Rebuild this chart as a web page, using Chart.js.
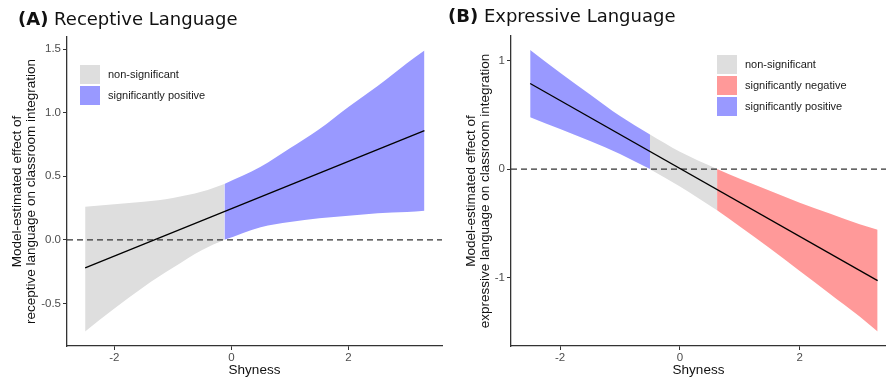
<!DOCTYPE html>
<html>
<head>
<meta charset="utf-8">
<script src="https://cdn.jsdelivr.net/npm/chart.js@4.4.1/dist/chart.umd.min.js"></script>
<style>
  html, body { margin: 0; padding: 0; background: #fff; }
  #wrap { position: relative; width: 886px; height: 377px; overflow: hidden; font-family: "Liberation Sans", Arial, sans-serif; }
  .panel { position: absolute; top: 0; width: 443px; height: 377px; }
  .ptitle { position: absolute; font-family: "DejaVu Sans", sans-serif; font-size: 18px; color: #111; white-space: nowrap; }
  .ptitle b { font-weight: bold; }
  .key { position: absolute; font-size: 11px; color: #1a1a1a; }
  .key .row { position: relative; height: 21px; }
  .key .sw { position: absolute; left: 0; top: 0; width: 20px; height: 19px; }
  .key .lab { position: absolute; left: 28px; top: 3px; white-space: nowrap; }
</style>
</head>
<body>
<div id="wrap">
  <div class="panel" style="left:0"><canvas id="receptiveChart"></canvas></div>
  <div class="panel" style="left:443px"><canvas id="expressiveChart"></canvas></div>

  <div class="ptitle" style="left:18px; top:8px"><b>(A)</b> Receptive Language</div>
  <div class="ptitle" style="left:448px; top:5px"><b>(B)</b> Expressive Language</div>

  <div class="key" style="left:80px; top:65px">
    <div class="row"><div class="sw" style="background:#dedede"></div><div class="lab">non-significant</div></div>
    <div class="row"><div class="sw" style="background:#9999ff"></div><div class="lab">significantly positive</div></div>
  </div>
  <div class="key" style="left:717px; top:55px">
    <div class="row"><div class="sw" style="background:#dedede"></div><div class="lab">non-significant</div></div>
    <div class="row"><div class="sw" style="background:#ff9999"></div><div class="lab">significantly negative</div></div>
    <div class="row"><div class="sw" style="background:#9999ff"></div><div class="lab">significantly positive</div></div>
  </div>
</div>

<script>
// (A) Receptive language - fitted line and confidence band pieces
var recLineX = [-2.5, 3.3];
var recLineY = [-0.22, 0.86];

var recNsX = [-2.5, -2, -1.5, -1, -0.5, -0.12];
var recNsUpper = [0.26, 0.28, 0.30, 0.33, 0.38, 0.44];
var recNsLower = [-0.72, -0.54, -0.37, -0.22, -0.08, 0.00];

var recPosX = [-0.12, 0.5, 1, 1.5, 2, 2.5, 3, 3.3];
var recPosUpper = [0.44, 0.575, 0.72, 0.87, 1.045, 1.21, 1.39, 1.49];
var recPosLower = [0.00, 0.10, 0.14, 0.17, 0.19, 0.21, 0.22, 0.23];

var recYTicks = [-0.5, 0, 0.5, 1, 1.5];

// (B) Expressive language
var expLineX = [-2.5, 3.3];
var expLineY = [0.79, -1.03];

var expPosX = [-2.5, -2, -1.5, -1, -0.5];
var expPosUpper = [1.10, 0.89, 0.69, 0.49, 0.32];
var expPosLower = [0.48, 0.37, 0.26, 0.14, 0.00];

var expNsX = [-0.5, 0, 0.62];
var expNsUpper = [0.32, 0.16, 0.00];
var expNsLower = [0.00, -0.16, -0.38];

var expNegX = [0.62, 1, 1.5, 2, 2.5, 3, 3.3];
var expNegUpper = [0.00, -0.09, -0.20, -0.31, -0.41, -0.51, -0.56];
var expNegLower = [-0.38, -0.53, -0.73, -0.94, -1.15, -1.36, -1.50];

var expYTicks = [-1, 0, 1];

var xTicks = [-2, 0, 2];

var GREY = '#dedede';
var BLUE = '#9999ff';
var RED = '#ff9999';

function pts(xs, ys) {
    return xs.map(function (x, i) { return { x: x, y: ys[i] }; });
}

// two datasets: upper edge (no fill) then lower edge filled up to it
function band(xs, upper, lower, color) {
    var common = {
        borderWidth: 0,
        borderColor: 'transparent',
        pointRadius: 0,
        cubicInterpolationMode: 'monotone',
        order: 2
    };
    return [
        Object.assign({ data: pts(xs, upper), fill: false }, common),
        Object.assign({ data: pts(xs, lower), fill: '-1', backgroundColor: color }, common)
    ];
}

function buildChart(id, cfg) {
    var ctx = document.getElementById(id).getContext('2d');
    var datasets = [];
    cfg.bands.forEach(function (b) { datasets = datasets.concat(band(b[0], b[1], b[2], b[3])); });
    // dashed reference line at zero
    datasets.push({
        data: [{ x: cfg.xMin, y: 0 }, { x: cfg.xMax, y: 0 }],
        borderColor: '#333',
        borderWidth: 1.3,
        borderDash: [6, 4],
        pointRadius: 0,
        fill: false,
        order: 1
    });
    // model-estimated line
    datasets.push({
        data: pts(cfg.lineX, cfg.lineY),
        borderColor: '#000',
        borderWidth: 1.3,
        pointRadius: 0,
        fill: false,
        order: 0
    });

    return new Chart(ctx, {
        type: 'line',
        data: { datasets: datasets },
        options: {
            responsive: true,
            maintainAspectRatio: false,
            animation: false,
            layout: { padding: { top: cfg.top, right: cfg.right, left: 0, bottom: 0 } },
            scales: {
                x: {
                    type: 'linear',
                    min: cfg.xMin,
                    max: cfg.xMax,
                    afterBuildTicks: function (scale) {
                        scale.ticks = xTicks.map(function (v) { return { value: v }; });
                    },
                    afterFit: function (scale) { scale.height = 31; },
                    ticks: {
                        color: '#4d4d4d',
                        font: { family: 'Liberation Sans', size: 11.5 },
                        padding: 1,
                        maxRotation: 0,
                        callback: function (v) { return String(v); }
                    },
                    grid: { drawOnChartArea: false, drawTicks: true, tickLength: 4, color: '#333' },
                    border: { display: true, color: '#333', width: 1.3 },
                    title: {
                        display: true,
                        text: 'Shyness',
                        color: '#111',
                        font: { family: 'Liberation Sans', size: 13.5, lineHeight: 1 },
                        padding: { top: 0, bottom: 0 }
                    }
                },
                y: {
                    type: 'linear',
                    min: cfg.yMin,
                    max: cfg.yMax,
                    afterBuildTicks: function (scale) {
                        scale.ticks = cfg.yTicks.map(function (v) { return { value: v }; });
                    },
                    afterFit: function (scale) { scale.width = cfg.yWidth; },
                    ticks: {
                        color: '#4d4d4d',
                        font: { family: 'Liberation Sans', size: 11.5 },
                        padding: 2,
                        callback: function (v) { return v.toFixed(cfg.decimals); }
                    },
                    grid: { drawOnChartArea: false, drawTicks: true, tickLength: 4, color: '#333' },
                    border: { display: true, color: '#333', width: 1.3 },
                    title: {
                        display: true,
                        text: cfg.yTitle,
                        color: '#111',
                        font: { family: 'Liberation Sans', size: 13.5, lineHeight: 0.98 },
                        padding: { top: cfg.yTitlePad, bottom: 0 }
                    }
                }
            },
            plugins: {
                legend: { display: false },
                title: { display: false },
                tooltip: { enabled: false }
            }
        }
    });
}

var receptiveChart = buildChart('receptiveChart', {
    bands: [
        [recNsX, recNsUpper, recNsLower, GREY],
        [recPosX, recPosUpper, recPosLower, BLUE]
    ],
    lineX: recLineX, lineY: recLineY,
    xMin: -2.81, xMax: 3.6,
    yMin: -0.835, yMax: 1.596,
    yTicks: recYTicks, decimals: 1,
    yTitle: ['Model-estimated effect of', 'receptive language on classroom integration'],
    yTitlePad: 11,
    yWidth: 67, top: 37, right: 1
});

var expressiveChart = buildChart('expressiveChart', {
    bands: [
        [expPosX, expPosUpper, expPosLower, BLUE],
        [expNsX, expNsUpper, expNsLower, GREY],
        [expNegX, expNegUpper, expNegLower, RED]
    ],
    lineX: expLineX, lineY: expLineY,
    xMin: -2.82, xMax: 3.44,
    yMin: -1.633, yMax: 1.229,
    yTicks: expYTicks, decimals: 0,
    yTitle: ['Model-estimated effect of', 'expressive language on classroom integration'],
    yTitlePad: 22,
    yWidth: 68, top: 36, right: 0
});
</script>
</body>
</html>
